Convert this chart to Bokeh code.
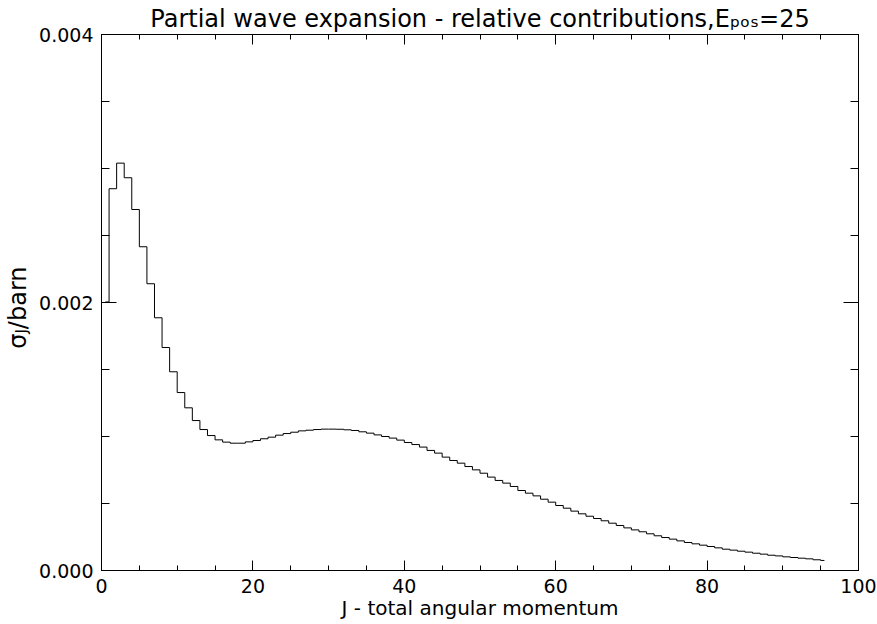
import numpy as np
from math import pi
from bokeh.plotting import figure
from bokeh.layouts import row
from bokeh.core.properties import value
from bokeh.models import (Range1d, LinearAxis, FixedTicker, PrintfTickFormatter,
                          CustomJSTickFormatter)
from bokeh.embed import file_html
from bokeh.resources import INLINE

# ---- data ----
J = list(range(96))
sigma = [2.004, 2.849, 3.040, 2.931, 2.694, 2.416, 2.140, 1.886, 1.664, 1.483,
         1.328, 1.214, 1.119, 1.052, 1.007, 0.975, 0.958, 0.950, 0.950, 0.960,
         0.970, 0.983, 0.995, 1.010, 1.022, 1.032, 1.042, 1.047, 1.052, 1.055,
         1.055, 1.054, 1.050, 1.045, 1.035, 1.025, 1.012, 1.000, 0.988, 0.973,
         0.955, 0.940, 0.921, 0.896, 0.876, 0.846, 0.821, 0.801, 0.776, 0.751,
         0.726, 0.697, 0.672, 0.652, 0.627, 0.597, 0.577, 0.557, 0.532, 0.510,
         0.485, 0.465, 0.443, 0.423, 0.405, 0.388, 0.371, 0.353, 0.336, 0.318,
         0.303, 0.289, 0.274, 0.259, 0.246, 0.234, 0.221, 0.209, 0.199, 0.189,
         0.179, 0.169, 0.159, 0.152, 0.144, 0.137, 0.129, 0.122, 0.114, 0.109,
         0.102, 0.097, 0.092, 0.087, 0.080, 0.075]  # units of 1e-3 barn
sigma_barn = [v * 1e-3 for v in sigma]

x_ticks = [0, 20, 40, 60, 80, 100]
x_minor = list(range(0, 101, 5))
y_ticks = [0.0, 0.002, 0.004]
y_minor = [i * 0.0005 for i in range(9)]

title_main = "Partial wave expansion - relative contributions,E"
title_sub = "\u209a\u2092\u209b"   # subscript "pos"
title_tail = "=25"
xlabel = "J - total angular momentum"
ylab_main = "σ"
ylab_sub = "J"
ylab_tail = "/barn"

FONT = "DejaVu Sans"
W, H = 877, 624
YL_W = 36             # strip left of the plot holding the y label
PW = W - YL_W
ML, MR, MT, MB = 62, 19, 34, 54
XMIN, XMAX, YMIN, YMAX = 0, 100, 0.0, 0.004


def aux_fig(w, h):
    f = figure(width=w, height=h, x_range=Range1d(0, w), y_range=Range1d(h, 0),
               output_backend="svg", toolbar_location=None,
               x_axis_type=None, y_axis_type=None, min_border=0)
    f.title.visible = False
    f.outline_line_color = None
    f.background_fill_color = "white"
    f.border_fill_color = "white"
    return f


def txt(f, x, y, s, size, align, angle=0.0):
    f.text(x=[x], y=[y], text=[s], angle=angle, text_align=align,
           text_baseline="alphabetic", text_font=value(FONT),
           text_font_size=value(size), text_color="black")


# ---- main plot ----
p = figure(width=PW, height=H, x_range=Range1d(XMIN, XMAX), y_range=Range1d(YMIN, YMAX),
           output_backend="svg", toolbar_location=None,
           title=title_main + title_sub + title_tail,
           min_border_left=ML, min_border_right=MR, min_border_top=MT, min_border_bottom=MB)
p.title.align = "center"
p.title.text_font = FONT
p.title.text_font_size = "24px"
p.title.text_font_style = "normal"
p.title.text_color = "black"
p.title.standoff = 3
p.title.offset = 0
p.outline_line_color = None
p.xgrid.visible = False
p.ygrid.visible = False
p.background_fill_color = "white"
p.border_fill_color = "white"

p.step(x=[j + 0.5 for j in J], y=sigma_barn, mode="center", line_color="black", line_width=1)

bottom = p.below[0]
left = p.left[0]
top = LinearAxis()
right = LinearAxis()
p.add_layout(top, "above")
p.add_layout(right, "right")

for ax in [bottom, top]:
    ax.ticker = FixedTicker(ticks=x_ticks, minor_ticks=x_minor)
    ax.major_tick_in = 10
    ax.major_tick_out = 0
    ax.minor_tick_in = 5
    ax.minor_tick_out = 0
for ax in [left, right]:
    ax.ticker = FixedTicker(ticks=y_ticks, minor_ticks=y_minor)
    ax.major_tick_in = 15
    ax.major_tick_out = 0
    ax.minor_tick_in = 8
    ax.minor_tick_out = 0
for ax in [bottom, top, left, right]:
    ax.axis_line_color = "black"
    ax.major_tick_line_color = "black"
    ax.minor_tick_line_color = "black"
    ax.major_label_text_font = FONT
    ax.major_label_text_color = "black"
    ax.major_label_text_font_size = "19px"
for ax in [top, right]:
    ax.formatter = CustomJSTickFormatter(code="return ''")
    ax.major_label_text_font_size = "0px"
    ax.major_label_standoff = 0

bottom.major_label_standoff = 8
left.major_label_standoff = 8
left.formatter = PrintfTickFormatter(format="%.3f")
bottom.axis_label = xlabel
bottom.axis_label_text_font = FONT
bottom.axis_label_text_font_size = "20px"
bottom.axis_label_text_font_style = "normal"
bottom.axis_label_text_color = "black"
bottom.axis_label_standoff = 0

# ---- y label strip (rotated, with subscript) ----
yf = aux_fig(YL_W, H)
yl_base, yl_anchor = 17, 348
txt(yf, yl_base, yl_anchor, ylab_main, "24px", "right", pi / 2)
txt(yf, yl_base + 4, yl_anchor, ylab_sub, "15px", "left", pi / 2)
txt(yf, yl_base, yl_anchor - 5, ylab_tail, "24px", "left", pi / 2)

layout = row(yf, p, spacing=0)
open("out.html", "w").write(file_html(layout, INLINE))
